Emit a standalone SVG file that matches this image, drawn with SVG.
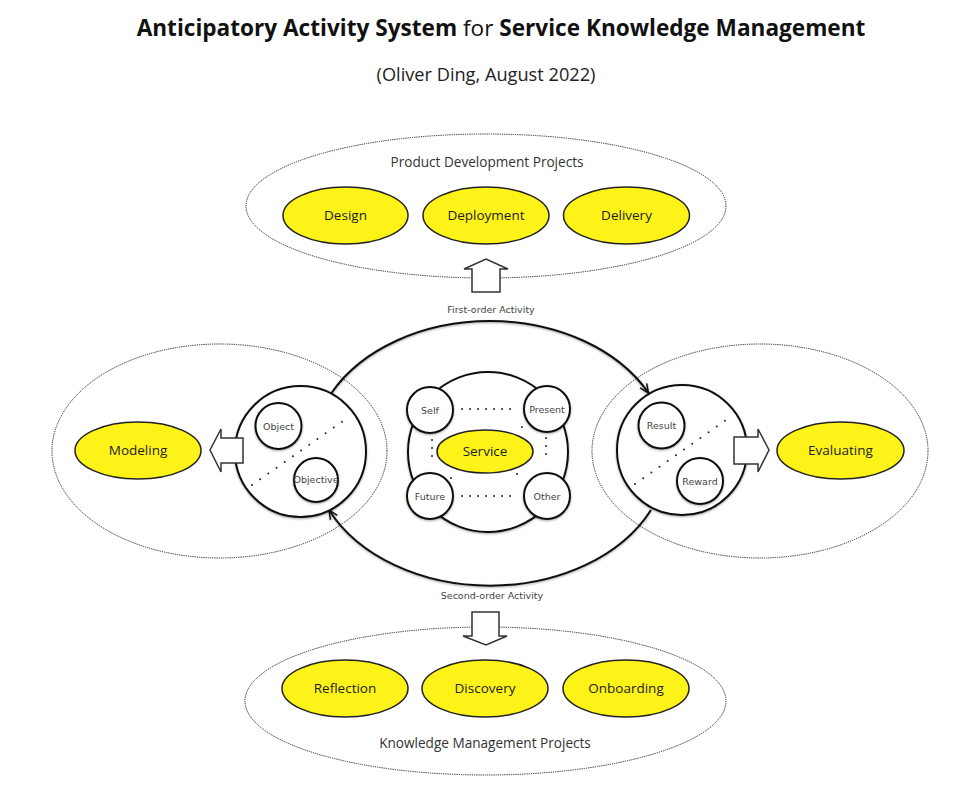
<svg xmlns="http://www.w3.org/2000/svg" width="976" height="799" viewBox="0 0 976 799">
<style>
.bg{fill:#fff}
.dash{fill:none;stroke:#222;stroke-width:1;stroke-dasharray:1.2 1}
.yel{fill:#fef319;stroke:#222;stroke-width:1.5}
.ring{fill:#fff;stroke:#111;stroke-width:2;filter:url(#sh)}
.ringn{fill:none;stroke:#111;stroke-width:2;filter:url(#sh)}
.blk{fill:#fff;stroke:#333;stroke-width:1.5;stroke-linejoin:miter}
.dots{fill:none;stroke:#222;stroke-width:2;stroke-linecap:round;stroke-dasharray:0 8}
.diag{stroke-dasharray:0 10}
.t-title{font-family:"Open Sans","Liberation Sans",sans-serif;font-size:22.6px;fill:#111;text-anchor:middle}
.t-sub{font-family:"Open Sans","Liberation Sans",sans-serif;font-size:18.2px;fill:#222;text-anchor:middle}
.t-lab{font-family:"Open Sans","Liberation Sans",sans-serif;font-size:13.5px;fill:#222;text-anchor:middle}
.t-grp{font-family:"Open Sans","Liberation Sans",sans-serif;font-size:13.6px;fill:#333;text-anchor:middle}
.t-sm{font-family:"DejaVu Sans","Liberation Sans",sans-serif;font-size:9.5px;fill:#444;text-anchor:middle}
</style>
<defs>
<filter id="sh" x="-10%" y="-10%" width="120%" height="120%">
<feDropShadow dx="0" dy="1" stdDeviation="1" flood-color="#000" flood-opacity="0.35"/>
</filter>
<marker id="ah" markerWidth="12" markerHeight="10" refX="10" refY="5" orient="auto" markerUnits="userSpaceOnUse">
<path d="M1,1 L10,5 L1,9" fill="none" stroke="#111" stroke-width="1.5"/>
</marker>
</defs>
<rect class="bg" x="0" y="0" width="976" height="799"/>

<g id="title">
<text class="t-title" x="501" y="36"><tspan font-weight="700">Anticipatory Activity System</tspan> for <tspan font-weight="700">Service Knowledge Management</tspan></text>
<text class="t-sub" x="486" y="81">(Oliver Ding, August 2022)</text>
</g>

<g id="product-development">
<ellipse class="dash" cx="486" cy="206" rx="240" ry="72"/>
<text class="t-grp" x="487" y="167">Product Development Projects</text>
</g>
<g id="design"><ellipse class="yel" cx="345.5" cy="215.5" rx="62.5" ry="28.5"/><text class="t-lab" x="345.5" y="220">Design</text></g>
<g id="deployment"><ellipse class="yel" cx="486" cy="215.5" rx="63" ry="28.5"/><text class="t-lab" x="486" y="220">Deployment</text></g>
<g id="delivery"><ellipse class="yel" cx="626.5" cy="215.5" rx="63" ry="28.5"/><text class="t-lab" x="626.5" y="220">Delivery</text></g>

<g id="modeling-group"><ellipse class="dash" cx="219.5" cy="451" rx="167.5" ry="107"/></g>
<g id="evaluating-group"><ellipse class="dash" cx="760" cy="451" rx="168" ry="107"/></g>

<g id="knowledge-management">
<ellipse class="dash" cx="485.5" cy="701" rx="240.5" ry="74"/>
<text class="t-grp" x="485" y="748">Knowledge Management Projects</text>
</g>
<g id="reflection"><ellipse class="yel" cx="345" cy="688.5" rx="63" ry="28.5"/><text class="t-lab" x="345" y="693">Reflection</text></g>
<g id="discovery"><ellipse class="yel" cx="485" cy="688.5" rx="63" ry="28.5"/><text class="t-lab" x="485" y="693">Discovery</text></g>
<g id="onboarding"><ellipse class="yel" cx="626" cy="688.5" rx="63" ry="28.5"/><text class="t-lab" x="626" y="693">Onboarding</text></g>

<g id="connectors">
<path class="ringn" d="M331.5,393 A178,132 0 0,1 648.5,393" marker-end="url(#ah)"/>
<path class="ringn" d="M651,510 A178,132 0 0,1 329,510" marker-end="url(#ah)"/>
<polygon class="blk" points="472,292 472,269 464,269 486,259 508,269 500,269 500,292"/>
<polygon class="blk" points="472,612 499,612 499,636 507,636 486,645 463,636 472,636"/>
<text class="t-sm" x="491" y="313">First-order Activity</text>
<text class="t-sm" x="492" y="599">Second-order Activity</text>
</g>

<g id="anticipatory-core">
<circle class="ring" cx="488" cy="452" r="80"/>
<g class="dots">
<line x1="462" y1="409" x2="518" y2="409"/>
<line x1="462" y1="496" x2="518" y2="496"/>
<line x1="432" y1="440" x2="432" y2="464"/>
<line x1="546" y1="438" x2="546" y2="462"/>
<line x1="446" y1="424" x2="452" y2="429"/>
<line x1="522" y1="427" x2="516" y2="432"/>
<line x1="451" y1="478" x2="457" y2="473"/>
<line x1="517" y1="474" x2="523" y2="479"/>
</g>
</g>
<g id="service"><ellipse class="yel" cx="485" cy="451.5" rx="48" ry="21.5"/><text class="t-lab" x="485" y="456">Service</text></g>
<g id="self"><circle class="ring" cx="430" cy="410" r="23"/><text class="t-sm" x="430" y="413.5">Self</text></g>
<g id="present"><circle class="ring" cx="547" cy="409" r="23"/><text class="t-sm" x="547" y="412.5">Present</text></g>
<g id="future"><circle class="ring" cx="430" cy="496" r="23"/><text class="t-sm" x="430" y="499.5">Future</text></g>
<g id="other"><circle class="ring" cx="547" cy="496" r="23"/><text class="t-sm" x="547" y="499.5">Other</text></g>

<g id="left-circle">
<circle class="ring" cx="300.5" cy="451.5" r="65.5"/>
<line class="dots diag" x1="252" y1="485" x2="350" y2="416"/>
</g>
<g id="object"><circle class="ring" cx="278.5" cy="426" r="23"/><text class="t-sm" x="278.5" y="429.5">Object</text></g>
<g id="objective"><circle class="ring" cx="316" cy="480" r="22"/><text class="t-sm" x="316" y="483" font-size="8">Objective</text></g>
<g id="modeling-arrow"><polygon class="blk" points="243,438 221,438 221,429 210,450 221,472 221,463 243,463"/></g>
<g id="modeling"><ellipse class="yel" cx="138" cy="450.5" rx="63" ry="28.5"/><text class="t-lab" x="138" y="455">Modeling</text></g>

<g id="right-circle">
<circle class="ring" cx="682" cy="450" r="65"/>
<line class="dots diag" x1="635" y1="484" x2="733" y2="415"/>
</g>
<g id="result"><circle class="ring" cx="661.5" cy="425.5" r="23"/><text class="t-sm" x="661.5" y="429">Result</text></g>
<g id="reward"><circle class="ring" cx="700" cy="481" r="23"/><text class="t-sm" x="700" y="484.5">Reward</text></g>
<g id="evaluating-arrow"><polygon class="blk" points="734,437 758,437 758,429 769,450 758,472 758,464 734,464"/></g>
<g id="evaluating"><ellipse class="yel" cx="840.5" cy="450.5" rx="63.5" ry="28.5"/><text class="t-lab" x="840.5" y="455">Evaluating</text></g>
</svg>
